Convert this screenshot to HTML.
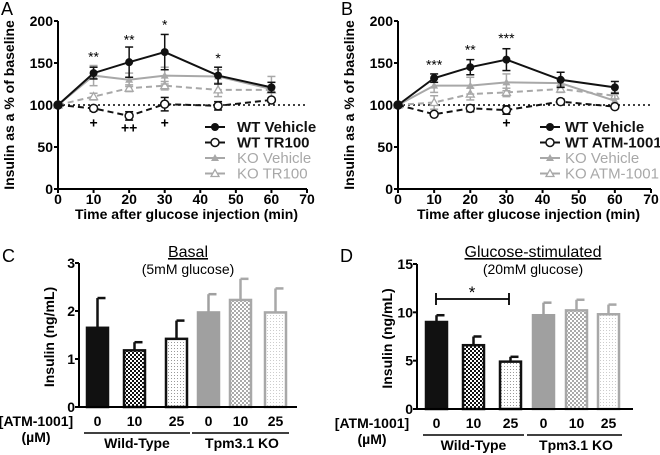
<!DOCTYPE html>
<html><head><meta charset="utf-8"><style>
html,body{margin:0;padding:0;background:#fff}
svg{display:block;font-family:"Liberation Sans",Arial,sans-serif}
.t{font-weight:bold;font-size:14px}
</style></head><body>
<svg id="s" width="660" height="455" viewBox="0 0 660 455">
<defs>
<pattern id="chkB" width="4" height="4" patternUnits="userSpaceOnUse"><rect width="4" height="4" fill="#fff"/><rect width="2" height="2" fill="#111"/><rect x="2" y="2" width="2" height="2" fill="#111"/></pattern>
<pattern id="chkG" width="4" height="4" patternUnits="userSpaceOnUse"><rect width="4" height="4" fill="#fff"/><rect width="2" height="2" fill="#aaa"/><rect x="2" y="2" width="2" height="2" fill="#aaa"/></pattern>
<pattern id="dotB" width="3" height="3" patternUnits="userSpaceOnUse"><rect width="3" height="3" fill="#fff"/><rect width="1" height="1" fill="#999"/></pattern>
<pattern id="dotG" width="3" height="3" patternUnits="userSpaceOnUse"><rect width="3" height="3" fill="#fff"/><rect width="1" height="1" fill="#ccc"/></pattern>
</defs>
</svg>
<script>
// ---- Line chart data ----
const times=[0,10,20,30,45,60];
const xTicks=[0,10,20,30,40,50,60,70];
const yTicksLine=[0,50,100,150,200];
const aWTVeh=[100,138,151,163,135,121];
const aWTVehErr=[0,7,18,21,10,6];
const aWTDrug=[100,96,87,101,99,106];
const aWTDrugErr=[0,3,5,8,5,2];
const aKOVeh=[100,135,130,135,134,119];
const aKOVehErr=[0,12,8,10,8,15];
const aKODrug=[100,110,120,123,118,118];
const aKODrugErr=[0,4,4,5,8,3];
const bWTVeh=[100,132,145,154,130,121];
const bWTVehErr=[0,5,9,13,9,7];
const bWTDrug=[100,89,96,94,104,98];
const bWTDrugErr=[0,2,4,5,3,2];
const bKOVeh=[100,123,123,127,126,105];
const bKOVehErr=[0,8,10,10,5,8];
const bKODrug=[100,103,113,115,119,111];
const bKODrugErr=[0,8,7,5,4,4];
// ---- Bar chart data ----
const barCats=['0','10','25','0','10','25'];
const cVals=[1.65,1.18,1.42,1.97,2.23,1.97];
const cErr=[0.62,0.17,0.38,0.38,0.44,0.50];
const cTicks=[0,1,2,3];
const dVals=[9.0,6.6,4.9,9.7,10.2,9.8];
const dErr=[0.7,0.9,0.5,1.3,1.1,1.0];
const dTicks=[0,5,10,15];

const S=document.getElementById('s');
const NS='http://www.w3.org/2000/svg';
function el(tag,a,parent,txt){const e=document.createElementNS(NS,tag);for(const k in a)e.setAttribute(k,a[k]);if(txt!==undefined)e.textContent=txt;(parent||S).appendChild(e);return e;}
function grp(name){const g=el('g',{});


return g;}

function lineChart(name,letter,ox,x70,yTop,yBot,series,legend,stars,pluses,lx,tx){
  const g=grp(name);
  const X=v=>ox+v*(x70-ox)/70, Y=v=>yBot-v*(yBot-yTop)/200;
  el('text',{x:ox-57,y:15,'font-size':18},g,letter);
  el('line',{x1:ox,y1:yTop,x2:ox,y2:yBot,stroke:'#000','stroke-width':2},g);
  el('line',{x1:ox,y1:yBot,x2:x70,y2:yBot,stroke:'#000','stroke-width':2},g);
  yTicksLine.forEach(v=>{el('line',{x1:ox-4,y1:Y(v),x2:ox,y2:Y(v),stroke:'#000','stroke-width':2},g);
    el('text',{x:ox-5,y:Y(v)+5,'text-anchor':'end',class:'t','font-size':14.5},g,v);});
  xTicks.forEach(v=>{el('line',{x1:X(v),y1:yBot,x2:X(v),y2:yBot+4,stroke:'#000','stroke-width':2},g);
    el('text',{x:X(v),y:yBot+15,'text-anchor':'middle',class:'t'},g,v);});
  el('text',{x:(ox+x70)/2+4,y:yBot+30,'text-anchor':'middle',class:'t','font-size':14.5},g,'Time after glucose injection  (min)');
  el('text',{x:0,y:0,transform:`translate(${ox-44},${(yTop+yBot)/2}) rotate(-90)`,'text-anchor':'middle',class:'t','font-size':14.5},g,'Insulin as a % of baseline');
  el('line',{x1:ox,y1:Y(100),x2:x70,y2:Y(100),stroke:'#000','stroke-width':1.5,'stroke-dasharray':'2,3'},g);
  series.slice().reverse().forEach(s=>{
    const pts=times.map((t,i)=>X(t)+','+Y(s.v[i])).join(' ');
    el('polyline',{points:pts,fill:'none',stroke:s.c,'stroke-width':2,'stroke-dasharray':s.dash||'none'},g);
    times.forEach((t,i)=>{if(s.e[i]>0){
      el('line',{x1:X(t),y1:Y(s.v[i]-s.e[i]),x2:X(t),y2:Y(s.v[i]+s.e[i]),stroke:s.c,'stroke-width':1.5},g);
      [s.v[i]-s.e[i],s.v[i]+s.e[i]].forEach(v=>el('line',{x1:X(t)-4,y1:Y(v),x2:X(t)+4,y2:Y(v),stroke:s.c,'stroke-width':1.5},g));}
      marker(g,s,X(t),Y(s.v[i]));});
  });
  stars.forEach(st=>el('text',{x:X(st[0]),y:Y(st[1]),'text-anchor':'middle','font-size':14},g,st[2]));
  pluses.forEach(p=>el('text',{x:X(p[0]),y:Y(p[1]),'text-anchor':'middle','font-size':14,'font-weight':'bold'},g,p[2]));
  series.forEach((s,i)=>{const yy=127+i*15.5;
    el('line',{x1:lx-10,y1:yy,x2:lx+10,y2:yy,stroke:s.c,'stroke-width':2},g);
    marker(g,s,lx,yy);
    el('text',{x:tx,y:yy+5,'font-size':15,'font-weight':i<2?'bold':'normal',fill:s.c},g,legend[i]);});
}
function marker(g,s,x,y){
  if(s.m==='fc')el('circle',{cx:x,cy:y,r:4,fill:s.c},g);
  else if(s.m==='oc')el('circle',{cx:x,cy:y,r:4,fill:'#fff',stroke:s.c,'stroke-width':1.5},g);
  else if(s.m==='ft')el('path',{d:`M${x-4},${y+3}L${x+4},${y+3}L${x},${y-4}Z`,fill:s.c},g);
  else el('path',{d:`M${x-4},${y+3}L${x+4},${y+3}L${x},${y-4}Z`,fill:'#fff',stroke:s.c,'stroke-width':1.3},g);
}
const G1='#a8a8a8';
lineChart('panel-a-line-chart','A',58,307,21,189,[
 {v:aWTVeh,e:aWTVehErr,c:'#111',m:'fc'},
 {v:aWTDrug,e:aWTDrugErr,c:'#111',m:'oc',dash:'6,4'},
 {v:aKOVeh,e:aKOVehErr,c:G1,m:'ft'},
 {v:aKODrug,e:aKODrugErr,c:G1,m:'ot',dash:'6,4'}],
 ['WT Vehicle','WT TR100','KO  Vehicle','KO TR100'],
 [[10,152,'**'],[20,172,'**'],[30,190,'*'],[45,150,'*']],[[10,73,'+'],[20,67,'++'],[30,73,'+']],215,237);
lineChart('panel-b-line-chart','B',398,651,21,189,[
 {v:bWTVeh,e:bWTVehErr,c:'#111',m:'fc'},
 {v:bWTDrug,e:bWTDrugErr,c:'#111',m:'oc',dash:'6,4'},
 {v:bKOVeh,e:bKOVehErr,c:G1,m:'ft'},
 {v:bKODrug,e:bKODrugErr,c:G1,m:'ot',dash:'6,4'}],
 ['WT Vehicle','WT ATM-1001','KO Vehicle','KO ATM-1001'],
 [[10,142,'***'],[20,160,'**'],[30,174,'***']],[[30,73,'+']],550,565);

function barChart(name,letter,ox,xr,yTop,yBot,max,ticks,vals,errs,bx,title,sub,titleX,lblX){
  const g=grp(name);
  const Y=v=>yBot-v*(yBot-yTop)/max;
  el('text',{x:ox-77,y:262,'font-size':18},g,letter);
  const fills=['#111','url(#chkB)','url(#dotB)','#a0a0a0','url(#chkG)','url(#dotG)'];
  const strokes=['#111','#111','#111','#a0a0a0','#a8a8a8','#a8a8a8'];
  vals.forEach((v,i)=>{const x=bx[i],w=21,c=x+w/2;
    const top=Y(v+errs[i]);
    el('line',{x1:c,y1:Y(v),x2:c,y2:top,stroke:strokes[i],'stroke-width':2.5},g);
    el('line',{x1:c,y1:top,x2:c+8,y2:top,stroke:strokes[i],'stroke-width':2.5},g);
    const r=el('rect',{x:x,y:Y(v),width:w,height:yBot-Y(v),fill:fills[i],stroke:strokes[i],'stroke-width':2.5},g);
    
    
    el('text',{x:c,y:yBot+19,'text-anchor':'middle',class:'t','font-size':14},g,barCats[i]);});
  el('line',{x1:ox,y1:yTop,x2:ox,y2:yBot,stroke:'#000','stroke-width':2},g);
  el('line',{x1:ox,y1:yBot,x2:xr,y2:yBot,stroke:'#000','stroke-width':2},g);
  ticks.forEach(v=>{el('line',{x1:ox-4,y1:Y(v),x2:ox,y2:Y(v),stroke:'#000','stroke-width':2},g);
    el('text',{x:ox-4,y:Y(v)+5,'text-anchor':'end',class:'t','font-size':14},g,v);});
  el('text',{x:0,y:0,transform:`translate(${ox-25},${(yTop+yBot)/2+2}) rotate(-90)`,'text-anchor':'middle',class:'t','font-size':14.5},g,'Insulin (ng/mL)');
  el('text',{x:titleX,y:257,'text-anchor':'middle','font-size':16,'text-decoration':'underline'},g,title);
  el('text',{x:titleX,y:274,'text-anchor':'middle','font-size':14},g,sub);
  el('text',{x:lblX,y:yBot+19,'text-anchor':'middle',class:'t','font-size':14},g,'[ATM-1001]');
  el('text',{x:lblX,y:yBot+35,'text-anchor':'middle',class:'t','font-size':12},g,'(µM)');
  el('line',{x1:bx[0]-3,y1:yBot+26,x2:bx[2]+24,y2:yBot+26,stroke:'#000','stroke-width':1.5},g);
  el('line',{x1:bx[3]-6,y1:yBot+26,x2:bx[5]+24,y2:yBot+26,stroke:'#000','stroke-width':1.5},g);
  el('text',{x:(bx[0]+bx[2]+21)/2,y:yBot+41,'text-anchor':'middle',class:'t','font-size':14.5},g,'Wild-Type');
  el('text',{x:(bx[3]+bx[5]+21)/2,y:yBot+41,'text-anchor':'middle',class:'t','font-size':14.5},g,'Tpm3.1 KO');
  return {g,Y};
}
barChart('panel-c-bar-chart','C',79,297,263,407,3,cTicks,cVals,cErr,[87,124,166,198,230,265],'Basal','(5mM glucose)',188,36);
const d=barChart('panel-d-bar-chart','D',417,633,264,409,15,dTicks,dVals,dErr,[426,463,500,533,566,598],'Glucose-stimulated','(20mM glucose)',533,372);
el('path',{d:'M436,293V305M436,299H509M509,293V305',stroke:'#000','stroke-width':1.8,fill:'none'},d.g);
el('text',{x:472,y:298,'text-anchor':'middle','font-size':17},d.g,'*');
</script>
</body></html>
